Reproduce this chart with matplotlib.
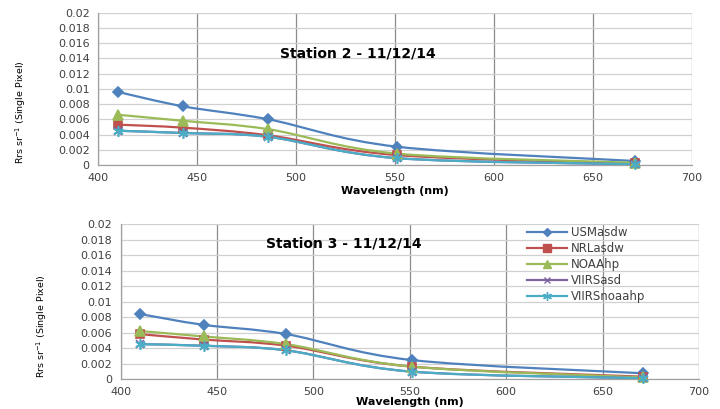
import matplotlib
matplotlib.use("Agg")
import matplotlib.pyplot as plt
import numpy as np
from matplotlib.path import Path
from matplotlib.patches import PathPatch
from matplotlib.lines import Line2D

# VIIRS band centre wavelengths (nm)
wavelength = [410, 443, 486, 551, 671]

series_names = ["USMasdw", "NRLasdw", "NOAAhp", "VIIRSasd", "VIIRSnoaahp"]

# Station 2 - 11/12/14
st2_usm = [0.0096, 0.0077, 0.0060, 0.0024, 0.00053]
st2_nrl = [0.0053, 0.0049, 0.0039, 0.0013, 0.0002]
st2_noaa = [0.0066, 0.0058, 0.0047, 0.0015, 0.0003]
st2_viirs_asd = [0.0045, 0.0042, 0.0037, 0.0009, 0.0001]
st2_viirs_noaa = [0.0045, 0.0042, 0.0037, 0.0009, 0.0001]

# Station 3 - 11/12/14
st3_usm = [0.0084, 0.0070, 0.0058, 0.00245, 0.00074]
st3_nrl = [0.0058, 0.0051, 0.0043, 0.0016, 0.0003]
st3_noaa = [0.0062, 0.0055, 0.0045, 0.0016, 0.0002]
st3_viirs_asd = [0.0045, 0.0043, 0.0037, 0.00095, 0.0001]
st3_viirs_noaa = [0.0045, 0.0043, 0.0037, 0.00095, 0.0001]

colors = ["#4F81BD", "#C0504D", "#9BBB59", "#8064A2", "#4BACC6"]
markers = ["D", "s", "^", "x", (6, 2, 0)]
msizes = [5, 6, 6.5, 5.5, 7.5]

TICK_COLOR = "#404040"


def smooth_path(x, y):
    """Cubic Bezier path through the points (Catmull-Rom style tangents)."""
    x = np.asarray(x, float)
    y = np.asarray(y, float)
    n = len(x)
    verts = [(x[0], y[0])]
    codes = [Path.MOVETO]
    for i in range(n - 1):
        i0 = max(i - 1, 0)
        i3 = min(i + 2, n - 1)
        c1 = (x[i] + (x[i + 1] - x[i0]) / 6.0, y[i] + (y[i + 1] - y[i0]) / 6.0)
        c2 = (x[i + 1] - (x[i3] - x[i]) / 6.0, y[i + 1] - (y[i3] - y[i]) / 6.0)
        verts += [c1, c2, (x[i + 1], y[i + 1])]
        codes += [Path.CURVE4] * 3
    return Path(verts, codes)


def draw_panel(ax, data, title, title_xy):
    ax.set_xlim(400, 700)
    ax.set_ylim(0, 0.02)
    ax.set_xticks(np.arange(400, 701, 50))
    ax.set_yticks(np.arange(0, 0.0201, 0.002))
    ax.set_yticklabels(["0", "0.002", "0.004", "0.006", "0.008", "0.01",
                        "0.012", "0.014", "0.016", "0.018", "0.02"])
    ax.tick_params(length=0, labelsize=8, colors=TICK_COLOR, pad=6)
    ax.xaxis.grid(True, color="#8c8c8c", linewidth=0.9)
    ax.yaxis.grid(True, color="#d0d0d0", linewidth=0.9)
    ax.set_axisbelow(True)
    for side in ["top", "right"]:
        ax.spines[side].set_visible(False)
    for side in ["left", "bottom"]:
        ax.spines[side].set_color("#a0a0a0")
        ax.spines[side].set_linewidth(0.9)

    for vals, c, m, ms in zip(data, colors, markers, msizes):
        patch = PathPatch(smooth_path(wavelength, vals), facecolor="none",
                          edgecolor=c, linewidth=1.6, zorder=3)
        ax.add_patch(patch)
        ax.plot(wavelength, vals, linestyle="none", marker=m, markersize=ms,
                color=c, markeredgecolor=c, markeredgewidth=1.2, zorder=4,
                clip_on=False)

    ax.text(title_xy[0], title_xy[1], title, ha="center", va="center",
            fontsize=10, fontweight="bold", color="black")
    ax.set_xlabel("Wavelength (nm)", fontsize=8, fontweight="bold",
                  labelpad=2)
    ax.set_ylabel(r"Rrs sr$^{-1}$ (Single Pixel)", fontsize=6.8,
                  family=["Liberation Sans Narrow", "DejaVu Sans"])


fig = plt.figure(figsize=(7.2, 4.09), dpi=100)

ax1 = fig.add_axes([98 / 720, 1 - 165 / 409, (692 - 98) / 720, (165 - 12.7) / 409])
draw_panel(ax1, [st2_usm, st2_nrl, st2_noaa, st2_viirs_asd, st2_viirs_noaa],
           "Station 2 - 11/12/14", (531, 0.0147))
ax1.yaxis.set_label_coords(-0.118, 0.35)

ax2 = fig.add_axes([120.7 / 720, 1 - 379 / 409, (699 - 120.7) / 720, (379 - 224.3) / 409])
draw_panel(ax2, [st3_usm, st3_nrl, st3_noaa, st3_viirs_asd, st3_viirs_noaa],
           "Station 3 - 11/12/14", (516, 0.01755))
ax2.yaxis.set_label_coords(-0.124, 0.34)
ax2.xaxis.labelpad = 0

handles = [Line2D([0], [0], color=c, marker=m, markersize=ms * 0.85,
                  markeredgewidth=1.0, linewidth=1.6)
           for c, m, ms in zip(colors, markers, msizes)]
fig.legend(handles, series_names, loc="upper left",
           bbox_to_anchor=(527 / 720, 1 - 226.5 / 409), frameon=False,
           fontsize=8.5, handlelength=3.4, handletextpad=0.3,
           labelspacing=0.25, borderpad=0, borderaxespad=0,
           labelcolor=TICK_COLOR)

fig.savefig("out.png", dpi=100)
